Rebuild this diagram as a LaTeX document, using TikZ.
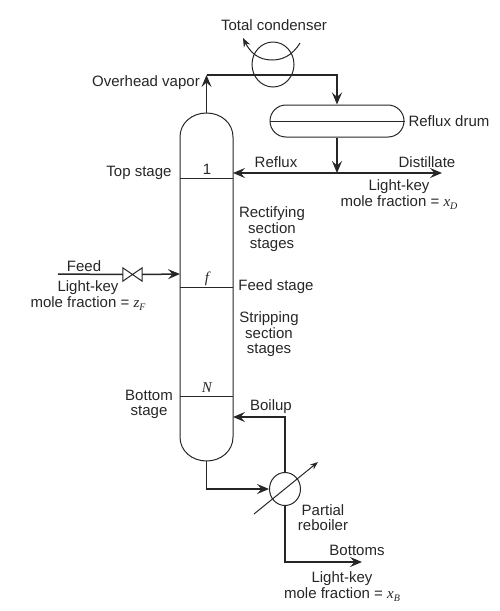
\documentclass[tikz,border=0pt]{standalone}
\usepackage{fontspec}
\setmainfont{Liberation Sans}
\newfontfamily\varfont{Liberation Serif}
\usetikzlibrary{arrows.meta,shapes.geometric,shapes.misc}
\newcommand{\stagevar}[1]{{\varfont\itshape #1}}
\newcommand{\fracvar}[2]{\stagevar{#1}\raisebox{-3pt}{\fontsize{10}{10}\selectfont\stagevar{#2}}}
\tikzset{
	lab/.style={font=\fontsize{15}{15.5}\selectfont,align=center,inner sep=0pt,text=black!85,yshift=-1.5pt},
	thin line/.style={draw=black!85,line width=1pt},
	flow/.style={draw=black!85,line width=1.5pt},
	tip/.style={-{Stealth[inset=4.5pt,length=12pt,width=10pt]}},
}
\begin{document}
\begin{tikzpicture}[x=1pt,y=-1pt]
	\useasboundingbox (0,0) rectangle (499,611);
	% column
	\coordinate (coltop) at (206.5,113);
	\coordinate (colbot) at (206.5,461);
	\draw[thin line] (coltop) .. controls (192,113) and (180,123) .. (180,137) -- (180,437)
		.. controls (180,451) and (192,461) .. (colbot)
		.. controls (221,461) and (233,451) .. (233,437) -- (233,137)
		.. controls (233,123) and (221,113) .. (coltop);
	\foreach \y/\n/\m in {178/1/1,287/f/\stagevar{f},396/N/\stagevar{N}}{
		\draw[thin line] (180,\y) coordinate (sl\n) -- (233,\y) coordinate (sr\n);
		\node[lab] (stage\n) at (207,\y-10) {\m};
	}
	\coordinate (colreflux) at (233,173);
	\coordinate (colfeed) at (180,274);
	\coordinate (colboilup) at (233,417);
	% equipment
	\node[draw=black!85,line width=1pt,ellipse,minimum width=42pt,minimum height=45pt,inner sep=0pt] (condenser) at (273,64.5) {};
	\node[draw=black!85,line width=1pt,rounded rectangle,minimum width=134pt,minimum height=32pt,inner sep=0pt] (drum) at (337,121) {};
	\draw[thin line] (drum.west) -- (drum.east);
	\node[draw=black!85,line width=1pt,ellipse,minimum width=31pt,minimum height=33pt,inner sep=0pt] (reboiler) at (285,489) {};
	\node[minimum width=19pt,minimum height=13pt,inner sep=0pt] (valve) at (132.5,274.5) {};
	\draw[thin line] (valve.north west) -- (valve.south east) -- (valve.north east) -- (valve.south west) -- cycle;
	% free ends
	\coordinate (ovh) at (206.5,75);
	\coordinate (junction) at (337,173);
	\coordinate (distout) at (442,173);
	\coordinate (feedin) at (58,274);
	\coordinate (botout) at (362,562);
	\coordinate (coilin) at (300,43);
	\coordinate (coilmid) at (272,60);
	\coordinate (coilout) at (243,38);
	\coordinate (heatin) at (254,514);
	\coordinate (heatout) at (318,462);
	% streams
	\draw[flow,tip] (coltop) -- (ovh);
	\draw[flow,tip] (ovh) -| (drum.north);
	\draw[flow,tip] (drum.south) -- (junction);
	\draw[flow,tip] (junction) -- (colreflux);
	\draw[flow,tip] (junction) -- (distout);
	\draw[flow] (feedin) -- (valve.west);
	\draw[flow,tip] (valve.east) -- (colfeed);
	\draw[flow,tip] (colbot) |- (reboiler.west);
	\draw[flow,tip] (reboiler.north) |- (colboilup);
	\draw[flow,tip] (reboiler.south) |- (botout);
	\draw[thin line,-{Stealth[inset=3pt,length=9pt,width=7pt]}] (coilin) .. controls (292,56) and (282,60) .. (coilmid) .. controls (258,60) and (250,52) .. (coilout);
	\draw[thin line,-{Stealth[length=8pt,width=6pt]}] (heatin) -- (heatout);
	% labels
	\node[lab] (lcond) at (274,24) {Total condenser};
	\node[lab] (lovh) at (146,81) {Overhead vapor};
	\node[lab] (ldrum) at (449,120) {Reflux drum};
	\node[lab] (lreflux) at (276,161) {Reflux};
	\node[lab] (ldist) at (427,161) {Distillate};
	\node[lab] (ltop) at (139,171) {Top stage};
	\node[lab] (lxd) at (399,193) {Light-key\\mole fraction = \fracvar{x}{D}};
	\node[lab] (lrect) at (272,228) {Rectifying\\section\\stages};
	\node[lab] (lfeed) at (84,265) {Feed};
	\node[lab] (lzf) at (88,294) {Light-key\\mole fraction = \fracvar{z}{F}};
	\node[lab] (lfs) at (276,285) {Feed stage};
	\node[lab] (lstrip) at (269,333) {Stripping\\section\\stages};
	\node[lab] (lbot) at (149,403) {Bottom\\stage};
	\node[lab] (lboil) at (271,405) {Boilup};
	\node[lab] (lreb) at (323,516) {Partial\\reboiler};
	\node[lab] (lbots) at (357,549) {Bottoms};
	\node[lab] (lxb) at (342,585) {Light-key\\mole fraction = \fracvar{x}{B}};
\end{tikzpicture}
\end{document}
